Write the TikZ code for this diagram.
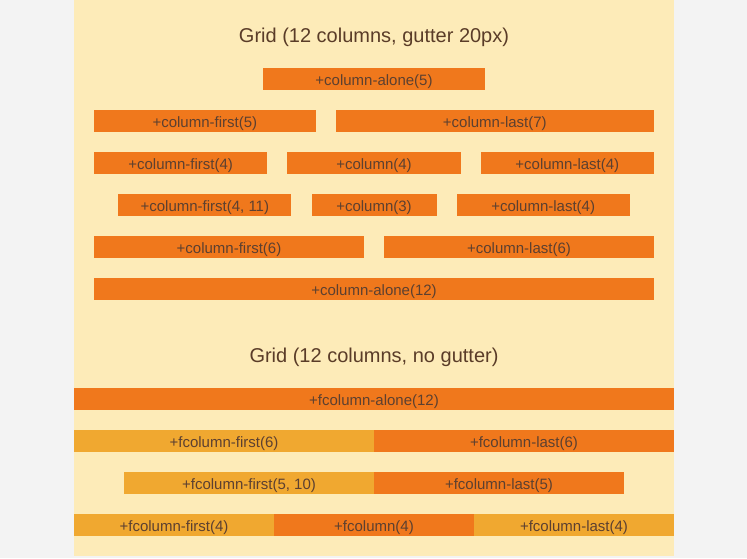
\documentclass[tikz,border=0pt]{standalone}
\usepackage{fontspec}
\setmainfont{Liberation Sans}
\definecolor{pagegray}{HTML}{F3F3F3}
\definecolor{cream}{HTML}{FDEBB8}
\definecolor{barorange}{HTML}{F0781C}
\definecolor{barlight}{HTML}{F0A830}
\definecolor{labelbrown}{HTML}{5C4030}
\definecolor{titlebrown}{HTML}{5A3C28}
\begin{document}
\begin{tikzpicture}[x=1pt,y=-1pt,
    bar/.style={rectangle,fill=barorange,minimum height=22pt,inner sep=0pt,
      text height=12pt,text depth=0pt,text=labelbrown,
      font=\fontsize{15}{15}\selectfont},
    lightbar/.style={bar,fill=barlight},
    gridtitle/.style={anchor=base,text=titlebrown,
      font=\fontsize{20}{20}\selectfont}]
  \fill[pagegray] (0,0) rectangle (747,558);
  \fill[cream] (74,0) rectangle (674,556);
  % grid with gutter
  \node[gridtitle] (titlegutter) at (374,42) {Grid (12 columns, gutter 20px)};
  \node[bar,minimum width=221.67pt] (alonefive) at (374,79) {+column-alone(5)};
  \node[bar,minimum width=221.67pt] (firstfive) at (204.83,121) {+column-first(5)};
  \node[bar,minimum width=318.33pt] (lastseven) at (494.83,121) {+column-last(7)};
  \node[bar,minimum width=173.33pt] (firstfour) at (180.67,163) {+column-first(4)};
  \node[bar,minimum width=173.33pt] (midfour) at (374,163) {+column(4)};
  \node[bar,minimum width=173.33pt] (lastfour) at (567.33,163) {+column-last(4)};
  \node[bar,minimum width=173.33pt] (firstfourel) at (204.83,205) {+column-first(4, 11)};
  \node[bar,minimum width=125pt] (midthree) at (374,205) {+column(3)};
  \node[bar,minimum width=173.33pt] (lastfourel) at (543.17,205) {+column-last(4)};
  \node[bar,minimum width=270pt] (firstsix) at (229,247) {+column-first(6)};
  \node[bar,minimum width=270pt] (lastsix) at (519,247) {+column-last(6)};
  \node[bar,minimum width=560pt] (alonetwelve) at (374,289) {+column-alone(12)};
  % grid without gutter
  \node[gridtitle] (titlenogutter) at (374,362) {Grid (12 columns, no gutter)};
  \node[bar,minimum width=600pt] (falonetwelve) at (374,399) {+fcolumn-alone(12)};
  \node[lightbar,minimum width=300pt] (ffirstsix) at (224,441) {+fcolumn-first(6)};
  \node[bar,minimum width=300pt] (flastsix) at (524,441) {+fcolumn-last(6)};
  \node[lightbar,minimum width=250pt] (ffirstfive) at (249,483) {+fcolumn-first(5, 10)};
  \node[bar,minimum width=250pt] (flastfive) at (499,483) {+fcolumn-last(5)};
  \node[lightbar,minimum width=200pt] (ffirstfour) at (174,525) {+fcolumn-first(4)};
  \node[bar,minimum width=200pt] (fmidfour) at (374,525) {+fcolumn(4)};
  \node[lightbar,minimum width=200pt] (flastfour) at (574,525) {+fcolumn-last(4)};
\end{tikzpicture}
\end{document}
